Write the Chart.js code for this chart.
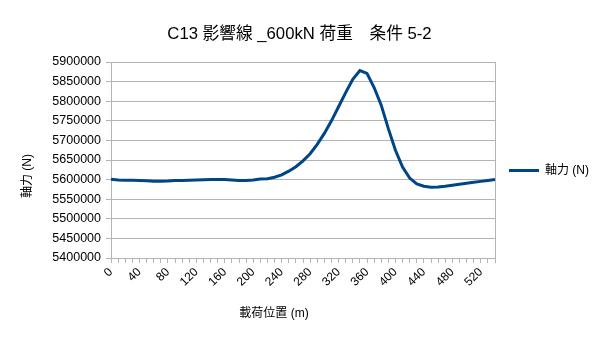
<!DOCTYPE html>
<html>
<head>
<meta charset="utf-8">
<script src="https://cdn.jsdelivr.net/npm/chart.js@4/dist/chart.umd.min.js"></script>
<style>
  html, body { margin: 0; padding: 0; background: #fff; }
  #wrap { width: 605px; height: 341px; }
</style>
</head>
<body>
<div id="wrap"><canvas id="influenceChart" width="605" height="341"></canvas></div>
<script>
// load position (m), every 10 m
var positions = [
    0, 10, 20, 30, 40, 50, 60, 70, 80, 90,
    100, 110, 120, 130, 140, 150, 160, 170, 180, 190,
    200, 210, 220, 230, 240, 250, 260, 270, 280, 290,
    300, 310, 320, 330, 340, 350, 360, 370, 380, 390,
    400, 410, 420, 430, 440, 450, 460, 470, 480, 490,
    500, 510, 520, 530, 540
];

// axial force (N)
var axialForce = [
    5601000, 5599000, 5598500, 5598500, 5598000, 5597000, 5596000, 5596000, 5596500, 5597500,
    5598000, 5598500, 5599000, 5599500, 5600000, 5600000, 5600000, 5599000, 5598000, 5598000,
    5599000, 5601500, 5602500, 5606000, 5612000, 5621500, 5633000, 5648000, 5666000, 5690000,
    5718000, 5750000, 5786000, 5822000, 5856000, 5878000, 5871000, 5835000, 5790000, 5730000,
    5675000, 5632000, 5604000, 5589000, 5583000, 5580500, 5581000, 5583000, 5585500, 5588000,
    5590500, 5593000, 5595500, 5598000, 5600500
];

var yMin = 5400000;
var yMax = 5900000;
var yStep = 50000;
var labelEvery = 4; // label shown every 40 m

var xTitle = '載荷位置 (m)';
var yTitle = '軸力 (N)';

var fontFamily = "'Liberation Sans', 'Noto Sans CJK JP', sans-serif";
var gridColor = '#b3b3b3';
var lastIndex = positions.length - 1;

// axis titles sit a bit off-centre in the original, so draw them by hand
var axisTitles = {
    id: 'axisTitles',
    afterDraw: function (chart) {
        var c = chart.ctx;
        var area = chart.chartArea;
        c.save();
        c.fillStyle = '#000';
        c.font = '12px ' + fontFamily;
        c.textAlign = 'center';
        c.textBaseline = 'middle';
        c.fillText(xTitle, (area.left + area.right) / 2 - 29, 314);
        c.translate(28, (area.top + area.bottom) / 2 + 16);
        c.rotate(-Math.PI / 2);
        c.fillText(yTitle, 0, 0);
        c.restore();
    }
};

var ctx = document.getElementById('influenceChart').getContext('2d');
var influenceChart = new Chart(ctx, {
    type: 'line',
    data: {
        labels: positions,
        datasets: [{
            label: '軸力 (N)',
            data: axialForce,
            borderColor: '#004586',
            backgroundColor: '#004586',
            borderWidth: 3,
            pointRadius: 0,
            tension: 0,
            fill: false
        }]
    },
    plugins: [axisTitles],
    options: {
        responsive: false,
        animation: false,
        layout: {
            padding: { left: 0, right: 6, top: 0, bottom: 0 }
        },
        plugins: {
            title: {
                display: true,
                text: 'C13 影響線 _600kN 荷重　条件 5-2',
                color: '#000',
                font: { family: fontFamily, size: 16.7, weight: 'normal' },
                padding: { top: 24, bottom: 18 }
            },
            legend: {
                position: 'right',
                labels: {
                    color: '#000',
                    font: { family: fontFamily, size: 12 },
                    usePointStyle: true,
                    pointStyle: 'line',
                    pointStyleWidth: 30,
                    boxWidth: 30,
                    padding: 14
                }
            },
            tooltip: { enabled: false }
        },
        scales: {
            x: {
                offset: false,
                afterFit: function (scale) { scale.height = 83; },
                grid: {
                    display: true,
                    drawOnChartArea: true,
                    color: function (c) {
                        return (c.index === 0 || c.index === lastIndex) ? gridColor : 'rgba(0,0,0,0)';
                    },
                    tickColor: gridColor,
                    tickLength: 5
                },
                border: { display: true, color: gridColor },
                ticks: {
                    autoSkip: false,
                    maxRotation: 45,
                    minRotation: 45,
                    padding: 2,
                    color: '#000',
                    font: { family: fontFamily, size: 12 },
                    callback: function (value, index) {
                        return index % labelEvery === 0 ? this.getLabelForValue(value) : '';
                    }
                }
            },
            y: {
                min: yMin,
                max: yMax,
                afterFit: function (scale) { scale.width = 111; },
                grid: {
                    color: gridColor,
                    tickColor: gridColor,
                    tickLength: 5
                },
                border: { display: true, color: gridColor },
                ticks: {
                    stepSize: yStep,
                    padding: 5,
                    color: '#000',
                    font: { family: fontFamily, size: 12.5 },
                    callback: function (value) { return String(value); }
                }
            }
        }
    }
});
</script>
</body>
</html>
